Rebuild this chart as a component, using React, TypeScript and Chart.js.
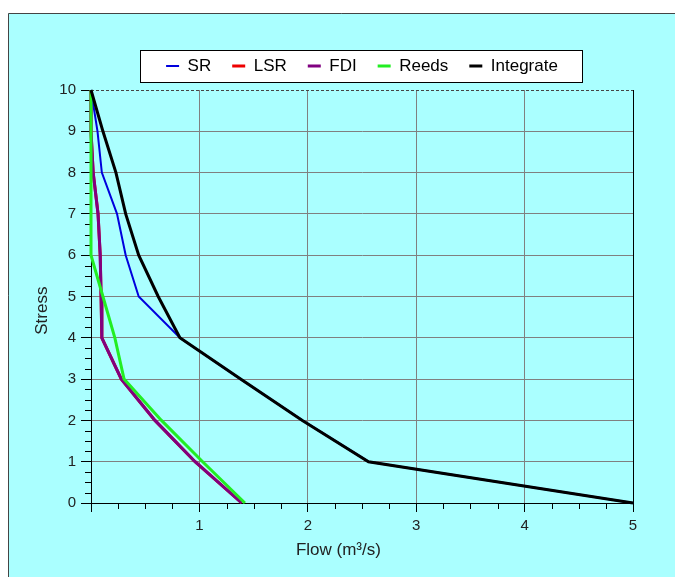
import React, { useEffect, useLayoutEffect, useRef } from 'react';
import { Chart, registerables } from 'chart.js';

Chart.register(...registerables);

// ---- data ----
const stressLevels = [10, 9, 8, 7, 6, 5, 4, 3, 2, 1, 0];
const srFlow = [0, 0.06, 0.1, 0.24, 0.32, 0.44, 0.82, 1.38, 1.95, 2.56, 5.0];
const lsrFlow = [0, 0, 0.02, 0.065, 0.085, 0.093, 0.1, 0.28, 0.59, 0.96, 1.39];
const fdiFlow = [0, 0, 0.02, 0.065, 0.085, 0.093, 0.1, 0.28, 0.59, 0.96, 1.39];
const reedsFlow = [0, 0, 0, 0, 0, 0.11, 0.22, 0.305, 0.65, 1.03, 1.42];
const integrateFlow = [0, 0.11, 0.23, 0.32, 0.44, 0.62, 0.82, 1.38, 1.95, 2.56, 5.0];
const seriesNames = ['SR', 'LSR', 'FDI', 'Reeds', 'Integrate'];
const xRange = [0, 5];
const yRange = [0, 10];
const majorStep = 1;
const minorStep = 0.25;
const xTitle = 'Flow (m³/s)';
const yTitle = 'Stress';

const FONT = "'Liberation Sans', Arial, Helvetica, sans-serif";
const NB = '\u00a0';

export default function App() {
  const canvasRef = useRef<HTMLCanvasElement>(null);

  useLayoutEffect(() => {
    document.body.style.margin = '8px 0 0 8px';
  }, []);

  useEffect(() => {
    const canvas = canvasRef.current;
    if (!canvas) return;
    const mk = (flows: number[]) => flows.map((x, i) => ({ x, y: stressLevels[i] }));

    const panelPlugin = {
      id: 'panelBg',
      beforeDraw(chart: any) {
        const { ctx, width, height } = chart;
        ctx.save();
        ctx.fillStyle = '#ffffff';
        ctx.fillRect(0, 0, width, height);
        ctx.fillStyle = '#aaffff';
        ctx.fillRect(0, 5, width, height - 5);
        ctx.strokeStyle = '#444444';
        ctx.lineWidth = 1;
        ctx.beginPath();
        ctx.moveTo(0.5, height);
        ctx.lineTo(0.5, 5.5);
        ctx.lineTo(width, 5.5);
        ctx.stroke();
        const lg = chart.legend;
        if (lg && lg.legendHitBoxes && lg.legendHitBoxes.length) {
          const hb = lg.legendHitBoxes;
          const first = hb[0];
          const last = hb[hb.length - 1];
          const l = Math.round(first.left - 26) + 0.5;
          const r = Math.round(last.left + last.width + 24) + 0.5;
          const cy = first.top + first.height / 2;
          const t = Math.round(cy - 16) + 0.5;
          const b = Math.round(cy + 16) + 0.5;
          ctx.fillStyle = '#ffffff';
          ctx.fillRect(l, t, r - l, b - t);
          ctx.strokeStyle = '#000000';
          ctx.strokeRect(l, t, r - l, b - t);
        }
        ctx.restore();
      },
    };

    const framePlugin = {
      id: 'frameMinor',
      beforeDatasetsDraw(chart: any) {
        const { ctx, chartArea: ca, scales } = chart;
        const xs = scales.x;
        const ys = scales.y;
        ctx.save();
        ctx.strokeStyle = '#444444';
        ctx.lineWidth = 1;
        ctx.setLineDash([3, 2]);
        const top = Math.round(ys.getPixelForValue(yRange[1])) + 0.5;
        ctx.beginPath();
        ctx.moveTo(ca.left, top);
        ctx.lineTo(ca.right, top);
        ctx.stroke();
        ctx.setLineDash([]);
        ctx.strokeStyle = '#000000';
        ctx.beginPath();
        for (let v = xRange[0] + minorStep; v < xRange[1]; v += minorStep) {
          if (Math.abs(v - Math.round(v)) < 1e-6) continue;
          const px = Math.round(xs.getPixelForValue(v)) + 0.5;
          ctx.moveTo(px, ca.bottom);
          ctx.lineTo(px, ca.bottom + 6);
        }
        for (let v = yRange[0] + minorStep; v < yRange[1]; v += minorStep) {
          if (Math.abs(v - Math.round(v)) < 1e-6) continue;
          const py = Math.round(ys.getPixelForValue(v)) + 0.5;
          ctx.moveTo(ca.left - 6, py);
          ctx.lineTo(ca.left, py);
        }
        ctx.stroke();
        ctx.restore();
      },
    };

    const common = { showLine: true, pointRadius: 0, pointHoverRadius: 0, tension: 0, clip: false as any };

    const chart = new Chart(canvas, {
      type: 'scatter',
      data: {
        datasets: [
          { ...common, label: seriesNames[0], data: mk(srFlow), borderColor: '#0000dd', backgroundColor: '#0000dd', borderWidth: 2, order: 2 },
          { ...common, label: seriesNames[1], data: mk(lsrFlow), borderColor: '#ee0000', backgroundColor: '#ee0000', borderWidth: 3, order: 4 },
          { ...common, label: seriesNames[2], data: mk(fdiFlow), borderColor: '#800080', backgroundColor: '#800080', borderWidth: 3, order: 3 },
          { ...common, label: seriesNames[3], data: mk(reedsFlow), borderColor: '#22ee22', backgroundColor: '#22ee22', borderWidth: 3, order: 1 },
          { ...common, label: seriesNames[4], data: mk(integrateFlow), borderColor: '#000000', backgroundColor: '#000000', borderWidth: 3, order: 0 },
        ],
      },
      options: {
        responsive: false,
        animation: false,
        devicePixelRatio: 1,
        layout: { padding: { left: 0, right: 42, top: 28.5, bottom: 0 } },
        plugins: {
          tooltip: { enabled: false },
          legend: {
            display: true,
            position: 'top',
            fullSize: false,
            labels: {
              usePointStyle: true,
              pointStyle: 'line',
              pointStyleWidth: 13,
              padding: 21,
              color: '#000000',
              font: { size: 17, family: FONT },
              sort: (a: any, b: any) => a.datasetIndex - b.datasetIndex,
            },
          } as any,
        },
        scales: {
          x: {
            type: 'linear',
            min: xRange[0],
            max: xRange[1],
            afterFit: (s: any) => { s.height = 74; },
            ticks: {
              stepSize: majorStep,
              color: '#222222',
              font: { size: 15, family: FONT },
              padding: 5,
              maxRotation: 0,
              autoSkip: false,
              callback: (v: any) => (v === 0 ? '' : String(v)),
            },
            grid: {
              color: (c: any) => {
                const v = c.tick ? c.tick.value : null;
                if (v === xRange[0]) return 'rgba(0,0,0,0)';
                if (v === xRange[1]) return '#000000';
                return '#808080';
              },
              tickColor: '#000000',
              tickLength: 9,
              lineWidth: 1,
            },
            border: { color: '#000000', width: 1 },
            title: {
              display: true,
              text: xTitle + NB.repeat(10),
              color: '#222222',
              font: { size: 17, family: FONT },
              padding: { top: 0, bottom: 16 },
            },
          },
          xTop: {
            type: 'linear',
            position: 'top',
            display: true,
            min: xRange[0],
            max: xRange[1],
            afterFit: (s: any) => { s.height = 5.5; },
            ticks: { display: false },
            grid: { display: false, drawTicks: false },
            border: { display: false },
            title: { display: false },
          },
          y: {
            type: 'linear',
            min: yRange[0],
            max: yRange[1],
            afterFit: (s: any) => { s.width = 83; },
            ticks: {
              stepSize: majorStep,
              color: '#222222',
              font: { size: 15, family: FONT },
              padding: 5,
              autoSkip: false,
            },
            grid: {
              color: (c: any) => {
                const v = c.tick ? c.tick.value : null;
                if (v === yRange[0] || v === yRange[1]) return 'rgba(0,0,0,0)';
                return '#808080';
              },
              tickColor: '#000000',
              tickLength: 10,
              lineWidth: 1,
            },
            border: { color: '#000000', width: 1 },
            title: {
              display: true,
              text: yTitle + NB.repeat(6),
              color: '#222222',
              font: { size: 17, family: FONT },
              padding: { top: 24, bottom: 0 },
            },
          },
        },
      },
      plugins: [panelPlugin, framePlugin],
    } as any);

    return () => chart.destroy();
  }, []);

  return (
    <div style={{ width: 667, height: 569 }}>
      <canvas ref={canvasRef} width={667} height={569} style={{ display: 'block', width: 667, height: 569 }} />
    </div>
  );
}
